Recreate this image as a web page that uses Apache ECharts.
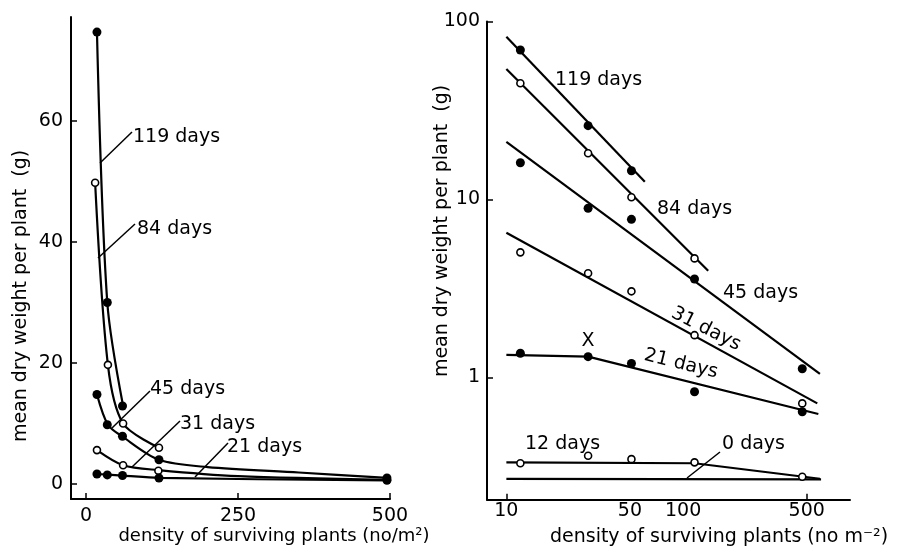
<!DOCTYPE html>
<html>
<head>
<meta charset="utf-8">
<script src="https://cdn.jsdelivr.net/npm/echarts@6/dist/echarts.min.js"></script>
<style>
  html, body { margin: 0; padding: 0; background: #fff; }
  #main { width: 922px; height: 548px; }
</style>
</head>
<body>
<div id="main"></div>
<script>
// 左图：线性坐标（密度 vs 平均干重）
var densityLin = [18, 35, 60, 120, 495];
var pts119 = [74.7, 30, 12.9];
var pts84 = [49.8, 19.7, 10, 6.0];
var pts45 = [14.8, 9.8, 7.9, 4.0, 1.0];
var pts31 = [5.6, 3.1, 2.2, 0.7];
var pts21 = [1.65, 1.5, 1.4, 1.0, 0.6];
var dens84 = [15, 36, 61, 120];
var dens31 = [18, 61, 119, 495];

// fitted curves (x, y)
var curve119 = [[18, 74.7], [35, 30], [61, 12.9]];
var curve84 = [[15, 49.8], [36, 19.7], [61, 10], [120, 6.0]];
var curve45 = [[18, 14.8], [36, 9.8], [59, 7.9], [120, 4.0], [200, 2.8], [350, 1.9], [495, 1.0]];
var curve31 = [[18, 5.6], [61, 3.1], [119, 2.3], [250, 1.3], [495, 0.7]];
var curve21 = [[18, 1.65], [60, 1.4], [120, 1.0], [495, 0.6]];

var linXTicks = [0, 250, 500];
var linYTicks = [0, 20, 40, 60];

// 右图：双对数坐标
var densityLog = [12, 29, 51, 116, 472];
var log119 = [69.2, 26.0, 14.5];
var log84 = [45.0, 18.2, 10.3, 4.67];
var log45 = [16.1, 8.93, 7.74, 3.58, 1.12];
var log31 = [5.05, 3.85, 3.05, 1.73, 0.716];
var log21 = [1.37, 1.31, 1.20, 0.832, 0.643];
var log12 = [0.330, 0.364, 0.348, 0.334, 0.277];

var fit119 = [[10, 82.2], [60.7, 12.6]];
var fit84 = [[10, 54.1], [138.6, 3.98]];
var fit45 = [[10, 21.1], [594, 1.05]];
var fit31 = [[10, 6.51], [574, 0.716]];
var fit21 = [[10, 1.34], [29, 1.31], [582, 0.624]];
var fit12 = [[10, 0.334], [116, 0.330], [594, 0.270]];
var fit0 = [[10, 0.270], [603, 0.268]];
var outlierX = [[29, 1.61]];

var logXLabels = [10, 50, 100, 500];
var logXTicks = [10, 500];
var logYTicks = [1, 10, 100];

var FONT = '"DejaVu Sans", sans-serif';

function zip(xs, ys) {
    var out = [];
    for (var i = 0; i < ys.length; i++) out.push([xs[i], ys[i]]);
    return out;
}

function curve(data, xi, yi) {
    return {
        type: 'line', xAxisIndex: xi, yAxisIndex: yi, data: data,
        smooth: 0.3, showSymbol: false, silent: true,
        lineStyle: { color: '#000', width: 2.2 }, z: 2
    };
}
function straight(data) {
    return {
        type: 'line', xAxisIndex: 1, yAxisIndex: 1, data: data,
        showSymbol: false, silent: true,
        lineStyle: { color: '#000', width: 2.2 }, z: 2
    };
}
function dots(data, xi, yi, open) {
    return {
        type: 'scatter', xAxisIndex: xi, yAxisIndex: yi, data: data,
        symbolSize: open ? 7 : 9, silent: true, z: 5,
        itemStyle: open ? { color: '#fff', borderColor: '#000', borderWidth: 1.6, opacity: 1 } : { color: '#000', opacity: 1 }
    };
}

function txt(str, x, y, opts) {
    opts = opts || {};
    return {
        type: 'text', x: x, y: y, rotation: opts.rot || 0, z: 10,
        style: {
            text: str, fontSize: opts.size || 19, fontFamily: FONT, fill: '#000',
            align: opts.align || 'left', verticalAlign: 'middle'
        }
    };
}
function ptr(x1, y1, x2, y2) {
    return { type: 'line', z: 10, shape: { x1: x1, y1: y1, x2: x2, y2: y2 }, style: { stroke: '#000', lineWidth: 1.5 } };
}

var axisLine = { show: true, onZero: false, lineStyle: { color: '#000', width: 2 } };
var labelStyle = { color: '#000', fontSize: 19, fontFamily: FONT };

var myChart = echarts.init(document.getElementById('main'));
var option = {
    backgroundColor: '#fff',
    animation: false,
    grid: [
        { left: 71, top: 17, width: 319, height: 482 },
        { left: 487, top: 21.5, right: 72, bottom: 48.3 }
    ],
    xAxis: [
        {
            type: 'value', gridIndex: 0, min: -24.7, max: 500,
            axisLine: axisLine, splitLine: { show: false },
            axisTick: { show: true, inside: true, length: 6, customValues: linXTicks, lineStyle: { color: '#000', width: 1.5 } },
            axisLabel: Object.assign({ customValues: linXTicks, margin: 8 }, labelStyle)
        },
        {
            type: 'log', logBase: 10, gridIndex: 1, min: 7.77, max: 879,
            axisLine: axisLine, splitLine: { show: false }, minorTick: { show: false },
            axisTick: { show: true, inside: true, length: 6, customValues: logXTicks, lineStyle: { color: '#000', width: 1.5 } },
            axisLabel: Object.assign({ customValues: logXLabels, margin: 2 }, labelStyle)
        }
    ],
    yAxis: [
        {
            type: 'value', gridIndex: 0, min: -2.48, max: 77.2,
            axisLine: axisLine, splitLine: { show: false },
            axisTick: { show: true, inside: true, length: 6, customValues: linYTicks, lineStyle: { color: '#000', width: 1.5 } },
            axisLabel: Object.assign({ customValues: linYTicks, margin: 8 }, labelStyle)
        },
        {
            type: 'log', logBase: 10, gridIndex: 1, min: 0.206, max: 100,
            axisLine: axisLine, splitLine: { show: false }, minorTick: { show: false },
            axisTick: { show: true, inside: true, length: 6, customValues: logYTicks, lineStyle: { color: '#000', width: 1.5 } },
            axisLabel: Object.assign({ customValues: logYTicks, margin: 7 }, labelStyle)
        }
    ],
    series: [
        curve(curve119, 0, 0), curve(curve84, 0, 0), curve(curve45, 0, 0), curve(curve31, 0, 0), curve(curve21, 0, 0),
        dots(zip(densityLin, pts119), 0, 0, false),
        dots(zip(dens84, pts84), 0, 0, true),
        dots(zip(densityLin, pts45), 0, 0, false),
        dots(zip(dens31, pts31), 0, 0, true),
        dots(zip(densityLin, pts21), 0, 0, false),

        straight(fit119), straight(fit84), straight(fit45), straight(fit31),
        straight(fit21), straight(fit12), straight(fit0),
        dots(zip(densityLog, log119), 1, 1, false),
        dots(zip(densityLog, log84), 1, 1, true),
        dots(zip(densityLog, log45), 1, 1, false),
        dots(zip(densityLog, log31), 1, 1, true),
        dots(zip(densityLog, log21), 1, 1, false),
        dots(zip(densityLog, log12), 1, 1, true),
        {
            // 异常点标记 X
            type: 'scatter', xAxisIndex: 1, yAxisIndex: 1, data: outlierX, symbol: 'circle', symbolSize: 1, silent: true, z: 6,
            itemStyle: { color: 'rgba(0,0,0,0)', opacity: 1 },
            label: { show: true, position: 'inside', formatter: 'X', color: '#000', fontSize: 19, fontFamily: FONT }
        }
    ],
    graphic: [
        // axis names
        txt('mean dry weight per plant  (g)', 21, 296, { rot: Math.PI / 2, align: 'center', size: 19 }),
        txt('density of surviving plants (no/m²)', 274, 536, { align: 'center', size: 18 }),
        txt('mean dry weight per plant  (g)', 442, 231, { rot: Math.PI / 2, align: 'center', size: 19 }),
        txt('density of surviving plants (no m⁻²)', 719, 537, { align: 'center', size: 19 }),

        // left panel labels
        txt('119 days', 133, 137), ptr(100, 163, 132, 132),
        txt('84 days', 137, 229), ptr(98, 258, 135, 224),
        txt('45 days', 150, 389), ptr(112, 428, 150, 391),
        txt('31 days', 180, 424), ptr(132, 467, 180, 421),
        txt('21 days', 227, 447), ptr(195, 477, 228, 443),

        // right panel labels
        txt('119 days', 555, 80),
        txt('84 days', 657, 209),
        txt('45 days', 723, 293),
        txt('31 days', 706, 329, { rot: -0.47, align: 'center' }),
        txt('21 days', 681, 364, { rot: -0.24, align: 'center' }),
        txt('12 days', 525, 444),
        txt('0 days', 722, 444), ptr(687, 478, 720, 452)
    ]
};

myChart.setOption(option);
</script>
</body>
</html>
